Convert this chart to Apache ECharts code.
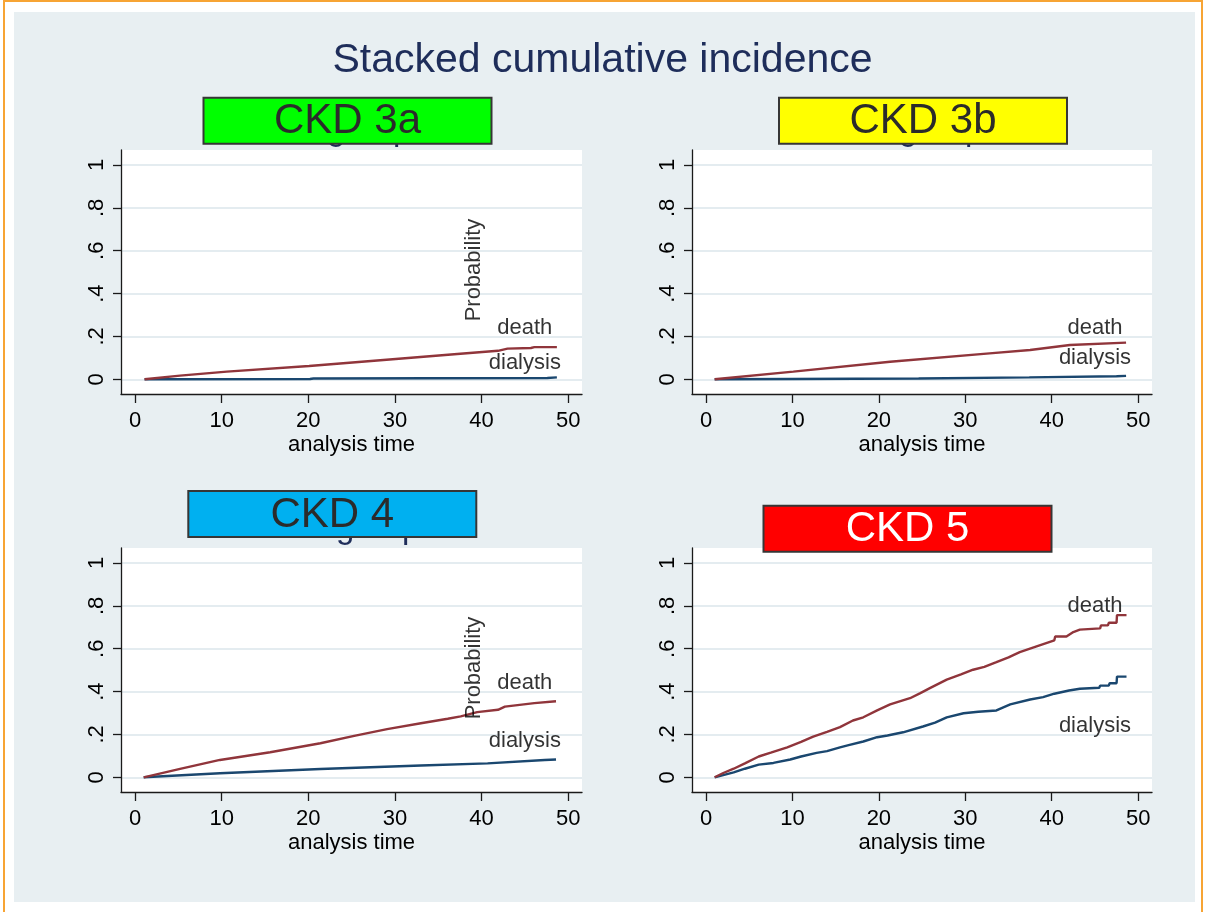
<!DOCTYPE html>
<html>
<head>
<meta charset="utf-8">
<script src="https://cdn.jsdelivr.net/npm/echarts@6/dist/echarts.min.js"></script>
<style>
  html, body { margin: 0; padding: 0; background: #fff; }
  #chart { width: 1205px; height: 912px; }
</style>
</head>
<body>
<div id="chart"></div>
<script>
// ---- data ----------------------------------------------------------------
const panelNames = ['CKD 3a', 'CKD 3b', 'CKD 4', 'CKD 5'];
const xTicks = [0, 10, 20, 30, 40, 50];
const yTicks = [0, 0.2, 0.4, 0.6, 0.8, 1];

// stacked cumulative incidence [analysis time, probability]
// "death" is stacked on top of "dialysis"
const deathCKD3a = [[1.1, 0], [5.2, 0.017], [10.6, 0.036], [20.1, 0.062], [30.1, 0.095], [37.2, 0.118],
  [41.9, 0.133], [43.0, 0.143], [45.7, 0.146], [46.1, 0.150], [48.7, 0.150]];
const dialysisCKD3a = [[1.1, 0], [20.2, 0.0015], [20.6, 0.004], [47.6, 0.006], [47.8, 0.009], [48.7, 0.009]];

const deathCKD3b = [[1.0, 0], [10.1, 0.036], [21.3, 0.082], [32.8, 0.121], [37.5, 0.137], [42.1, 0.160], [48.6, 0.171]];
const dialysisCKD3b = [[1.0, 0], [10.0, 0.0015], [10.1, 0.003], [24.6, 0.004], [24.7, 0.007], [37.4, 0.009],
  [37.5, 0.012], [47.5, 0.014], [47.6, 0.016], [48.6, 0.016]];

const deathCKD4 = [[1.0, 0], [5.2, 0.039], [9.8, 0.081], [15.6, 0.117], [21.4, 0.159], [25.3, 0.193],
  [29.1, 0.225], [33.0, 0.252], [36.1, 0.273], [37.6, 0.284], [39.5, 0.304], [41.9, 0.315],
  [42.7, 0.330], [46.1, 0.346], [48.6, 0.355]];
const dialysisCKD4 = [[1.0, 0], [9.8, 0.019], [21.4, 0.039], [33.0, 0.055], [40.7, 0.065], [47.3, 0.081], [48.6, 0.083]];

const deathCKD5 = [[1.0, 0], [2.0, 0.020], [3.2, 0.040], [4.5, 0.065], [6.1, 0.097], [7.5, 0.115], [9.4, 0.140],
  [11.0, 0.165], [12.4, 0.190], [14.0, 0.212], [15.5, 0.234], [17.0, 0.265], [18.2, 0.280], [19.8, 0.312],
  [21.3, 0.340], [23.6, 0.369], [24.8, 0.393], [25.9, 0.416], [27.85, 0.456], [29.5, 0.480], [30.9, 0.502],
  [32.2, 0.515], [33.6, 0.537], [35.0, 0.560], [36.3, 0.584], [38.25, 0.611], [40.3, 0.639], [40.4, 0.657],
  [41.7, 0.657], [42.5, 0.678], [43.25, 0.689], [45.6, 0.695], [45.7, 0.709], [46.5, 0.709], [46.6, 0.721],
  [47.5, 0.721], [47.55, 0.757], [48.65, 0.757]];
const dialysisCKD5 = [[1.0, 0], [3.2, 0.023], [4.5, 0.040], [6.1, 0.059], [7.8, 0.067], [9.75, 0.083], [11.0, 0.097],
  [12.8, 0.114], [14.0, 0.122], [15.5, 0.140], [16.5, 0.150], [18.2, 0.167], [19.8, 0.187], [21.0, 0.195],
  [22.8, 0.210], [25.1, 0.237], [26.5, 0.255], [27.85, 0.280], [29.8, 0.299], [31.5, 0.306], [33.6, 0.312],
  [35.2, 0.340], [37.5, 0.363], [39.0, 0.374], [40.3, 0.390], [40.4, 0.397], [42.0, 0.405], [43.25, 0.413],
  [45.5, 0.418], [45.6, 0.428], [46.6, 0.428], [46.7, 0.439], [47.5, 0.439], [47.55, 0.470], [48.65, 0.470]];

const deathSeries = [deathCKD3a, deathCKD3b, deathCKD4, deathCKD5];
const dialysisSeries = [dialysisCKD3a, dialysisCKD3b, dialysisCKD4, dialysisCKD5];

// text placed in data coordinates of each panel
const curveLabelText = ['death', 'dialysis'];
const deathLabelAt = [[45, 0.24], [45, 0.24], [45, 0.44], [45, 0.80]];
const dialysisLabelAt = [[45, 0.077], [45, 0.098], [45, 0.17], [45, 0.24]];
const probabilityAt = [[39.1, 0.51], null, [39.1, 0.51], null];

// ---- layout & style ------------------------------------------------------
const FONT = '"Liberation Sans", Arial, sans-serif';
const DEATH_COLOR = '#90353b';
const DIALYSIS_COLOR = '#1a476f';
const AXIS_COLOR = '#1a1a1a';

const grids = [
  { left: 121, top: 150, width: 461, height: 244 },
  { left: 692, top: 150, width: 460, height: 244 },
  { left: 121, top: 548, width: 461, height: 244 },
  { left: 692, top: 548, width: 460, height: 244 }
];

const headers = [
  { x: 203.5, y: 97.7, w: 288, h: 46, fill: '#00ff00', color: '#2b2b2b' },
  { x: 779, y: 97.7, w: 288, h: 46, fill: '#ffff00', color: '#2b2b2b' },
  { x: 188.3, y: 491, w: 288, h: 46, fill: '#00b0f0', color: '#2b2b2b' },
  { x: 763.5, y: 505.7, w: 288, h: 46, fill: '#ff0000', color: '#ffffff' }
];
const subtitleLeft = [327, 899, 336, 907];

function yFmt(v) {
  if (v === 0) return '0';
  if (v === 1) return '1';
  return String(v).replace(/^0\./, '.');
}

const option = {
  animation: false,
  textStyle: { fontFamily: FONT },
  title: {
    text: 'Stacked cumulative incidence',
    left: 'center',
    top: 35,
    textStyle: { fontSize: 41, fontWeight: 'normal', color: '#1e2d5a', fontFamily: FONT }
  },
  grid: grids.map(g => Object.assign({ show: true, backgroundColor: '#ffffff', borderWidth: 0 }, g)),
  xAxis: grids.map((g, i) => ({
    type: 'value',
    gridIndex: i,
    min: -1.62,
    max: 51.6,
    axisLine: { show: true, onZero: false, lineStyle: { color: AXIS_COLOR, width: 1.3 } },
    axisTick: { show: true, length: 9, customValues: xTicks, lineStyle: { color: AXIS_COLOR, width: 1.3 } },
    axisLabel: { customValues: xTicks, fontSize: 22, color: '#000', margin: 16, fontFamily: FONT },
    splitLine: { show: false },
    name: 'analysis time',
    nameLocation: 'middle',
    nameGap: 40,
    nameTextStyle: { fontSize: 22, color: '#000', fontFamily: FONT }
  })),
  yAxis: grids.map((g, i) => ({
    type: 'value',
    gridIndex: i,
    min: -0.0686,
    max: 1.07,
    axisLine: { show: true, onZero: false, lineStyle: { color: AXIS_COLOR, width: 1.3 } },
    axisTick: { show: true, length: 8, customValues: yTicks, lineStyle: { color: AXIS_COLOR, width: 1.3 } },
    axisLabel: { customValues: yTicks, rotate: 90, fontSize: 22, color: '#000', margin: 13, fontFamily: FONT, formatter: yFmt },
    splitLine: { show: true, lineStyle: { color: '#e4ecf0', width: 2 } }
  })),
  series: [],
  graphic: { elements: [] }
};

for (let i = 0; i < 4; i++) {
  option.series.push({
    type: 'line', name: 'dialysis', xAxisIndex: i, yAxisIndex: i,
    data: dialysisSeries[i], symbol: 'none', silent: true, z: 3,
    lineStyle: { color: DIALYSIS_COLOR, width: 2.4 }
  });
  option.series.push({
    type: 'line', name: 'death', xAxisIndex: i, yAxisIndex: i,
    data: deathSeries[i], symbol: 'none', silent: true, z: 4,
    lineStyle: { color: DEATH_COLOR, width: 2.4 }
  });
  const labelData = [
    { name: curveLabelText[0], value: deathLabelAt[i] },
    { name: curveLabelText[1], value: dialysisLabelAt[i] }
  ];
  option.series.push({
    type: 'scatter', xAxisIndex: i, yAxisIndex: i, silent: true, z: 6,
    symbolSize: 1, itemStyle: { color: 'rgba(0,0,0,0)' },
    data: labelData,
    label: { show: true, position: 'inside', formatter: '{b}', fontSize: 22, color: '#000', fontFamily: FONT }
  });
  if (probabilityAt[i]) {
    option.series.push({
      type: 'scatter', xAxisIndex: i, yAxisIndex: i, silent: true, z: 6,
      symbolSize: 1, itemStyle: { color: 'rgba(0,0,0,0)' },
      data: [{ name: 'Probability', value: probabilityAt[i] }],
      label: { show: true, position: 'inside', rotate: 90, formatter: '{b}', fontSize: 22, color: '#000', fontFamily: FONT }
    });
  }
}

// page frame and panel background
option.graphic.elements.push(
  { type: 'rect', z: -20, silent: true, shape: { x: 4, y: 1, width: 1198, height: 940 },
    style: { fill: '#ffffff', stroke: '#f7a434', lineWidth: 2 } },
  { type: 'rect', z: -10, silent: true, shape: { x: 14, y: 12, width: 1181, height: 890 },
    style: { fill: '#e8eff2' } }
);

// panel subtitles (covered by the coloured headers) and headers
headers.forEach((h, i) => {
  const g = grids[i];
  option.graphic.elements.push({
    type: 'text', z: 50, silent: true, x: subtitleLeft[i], y: g.top - 19,
    style: { text: 'group', fontSize: 33, fontFamily: FONT, fill: '#1e2d5a',
      align: 'left', verticalAlign: 'middle', textAlign: 'left', textVerticalAlign: 'middle' }
  });
  option.graphic.elements.push({
    type: 'rect', z: 100, silent: true, shape: { x: h.x, y: h.y, width: h.w, height: h.h },
    style: { fill: h.fill, stroke: '#363636', lineWidth: 2 }
  });
  option.graphic.elements.push({
    type: 'text', z: 101, silent: true, x: h.x + h.w / 2, y: h.y + h.h / 2 + 1,
    style: { text: panelNames[i], fontSize: 42, fontFamily: FONT, fill: h.color,
      align: 'center', verticalAlign: 'middle', textAlign: 'center', textVerticalAlign: 'middle' }
  });
});

const chart = echarts.init(document.getElementById('chart'), null, { renderer: 'canvas' });
chart.setOption(option);
</script>
</body>
</html>
